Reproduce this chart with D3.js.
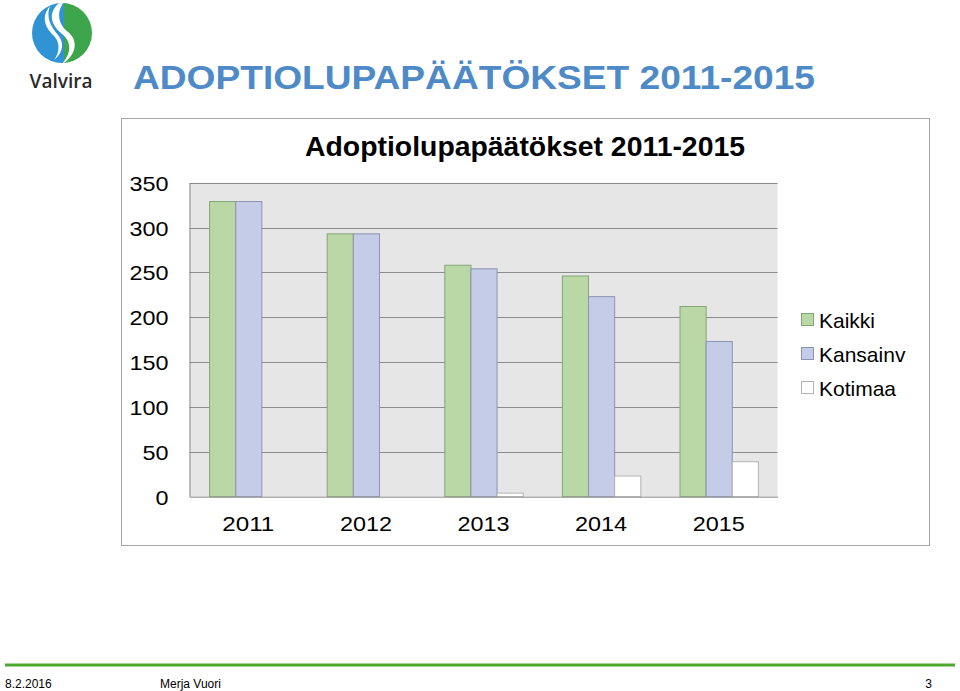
<!DOCTYPE html>
<html><head><meta charset="utf-8">
<script src="https://cdn.jsdelivr.net/npm/d3@7"></script>
<style>
html,body{margin:0;padding:0;background:#fff;}
svg{display:block;font-family:"Liberation Sans",Arial,sans-serif;}
</style></head>
<body>
<svg id="chart" width="960" height="691"></svg>
<script>
// ---- data ----
const years = ["2011","2012","2013","2014","2015"];
const seriesNames = ["Kaikki","Kansainv","Kotimaa"];
const kaikki   = [329, 293, 258, 246, 212];
const kansainv = [329, 293, 254, 223, 173];
const kotimaa  = [0, 0, 4, 23, 39];
const yTicks = [0, 50, 100, 150, 200, 250, 300, 350];
const slideTitle = "ADOPTIOLUPAPÄÄTÖKSET 2011-2015";
const chartTitle = "Adoptiolupapäätökset 2011-2015";
const footerDate = "8.2.2016";
const footerAuthor = "Merja Vuori";
const footerPage = "3";

const values = {Kaikki: kaikki, Kansainv: kansainv, Kotimaa: kotimaa};
const fills = {Kaikki: "#b9d8a5", Kansainv: "#c4cce8", Kotimaa: "#ffffff"};
const strokes = {Kaikki: "#87a477", Kansainv: "#8c94b2", Kotimaa: "#b3b3b3"};

const svg = d3.select("#chart");

// ---- logo ----
const logo = svg.append("g");
const defs = svg.append("defs");
defs.append("clipPath").attr("id","lc").append("circle").attr("cx",62).attr("cy",33).attr("r",30);
const lg = logo.append("g").attr("clip-path","url(#lc)");
lg.append("rect").attr("x",30).attr("y",0).attr("width",36).attr("height",70).attr("fill","#2f93d4");
lg.append("rect").attr("x",64).attr("y",0).attr("width",34).attr("height",70).attr("fill","#3da54c");
lg.append("path").attr("d","M60,2 C46,14 52,26 62,34 C72,42 72,54 60,66 C78,54 78,40 68,32 C58,24 56,12 64,2 Z").attr("fill","#fff");
lg.append("path").attr("d","M50,6 C40,18 46,28 54,36 C60,42 60,52 54,60 C64,52 64,42 58,35 C50,26 46,16 50,6 Z").attr("fill","#fff");
logo.append("text").attr("x",61).attr("y",88).attr("text-anchor","middle")
  .attr("font-size",19).attr("font-weight",600).attr("fill","#2b2b2b").attr("font-family","'Open Sans',sans-serif").text("Valvira");

// ---- slide title ----
svg.append("text").attr("x",133).attr("y",89)
  .attr("font-size",33).attr("font-weight","bold").attr("fill","#4f8ac8")
  .attr("textLength",682).attr("lengthAdjust","spacingAndGlyphs")
  .text(slideTitle);

// ---- chart box ----
svg.append("rect").attr("x",121.5).attr("y",118.5).attr("width",808).attr("height",427)
  .attr("fill","#fff").attr("stroke","#a6a6a6").attr("stroke-width",1);

svg.append("text").attr("x",525).attr("y",156).attr("text-anchor","middle")
  .attr("font-size",27).attr("font-weight","bold").attr("fill","#000")
  .attr("textLength",440).attr("lengthAdjust","spacingAndGlyphs")
  .text(chartTitle);

// ---- scales ----
const plotL = 189.5, plotR = 777.5, plotT = 182.7, plotB = 496.7;
const y = d3.scaleLinear().domain([0,350]).range([plotB, plotT]);
const x0 = d3.scaleBand().domain(years).range([plotL, plotR]).padding(0);
const x1 = d3.scaleBand().domain(seriesNames).range([0, x0.bandwidth()]).paddingInner(0).paddingOuter(0.75);

// plot background
svg.append("rect").attr("x",plotL).attr("y",plotT).attr("width",plotR-plotL).attr("height",plotB-plotT)
  .attr("fill","#e6e6e6");

// gridlines
svg.append("g").selectAll("line").data(yTicks.filter(d=>d>0)).join("line")
  .attr("x1",plotL).attr("x2",plotR)
  .attr("y1",d=>Math.round(y(d))+0.5).attr("y2",d=>Math.round(y(d))+0.5)
  .attr("stroke","#8c8c8c").attr("stroke-width",1);

// y axis labels
const yAxis = d3.axisLeft(y).tickValues(yTicks).tickSize(0).tickPadding(21);
const ya = svg.append("g").attr("transform",`translate(${plotL},0)`).call(yAxis);
ya.select(".domain").attr("stroke","#8c8c8c");
ya.selectAll("text").attr("font-size",21).attr("fill","#000")
  .attr("font-family","'Liberation Sans',Arial,sans-serif").attr("dy","0.36em")
  .attr("textLength",d=>String(d).length*13).attr("lengthAdjust","spacingAndGlyphs");

// bars
const groups = svg.append("g").selectAll("g").data(years).join("g")
  .attr("transform",d=>`translate(${x0(d)},0)`);
groups.selectAll("rect").data((yr,i)=>seriesNames.map(s=>({s, v: values[s][i]})).filter(d=>d.v>0)).join("rect")
  .attr("x",d=>x1(d.s)+0.5).attr("width",x1.bandwidth())
  .attr("y",d=>y(d.v)).attr("height",d=>plotB-y(d.v))
  .attr("fill",d=>fills[d.s]).attr("stroke",d=>strokes[d.s]).attr("stroke-width",1);

// x axis
const xAxis = d3.axisBottom(x0).tickSize(0).tickPadding(19);
const xa = svg.append("g").attr("transform",`translate(0,${plotB})`).call(xAxis);
xa.select(".domain").attr("stroke","#8c8c8c");
xa.selectAll("text").attr("font-size",21).attr("fill","#000")
  .attr("font-family","'Liberation Sans',Arial,sans-serif")
  .attr("textLength",52).attr("lengthAdjust","spacingAndGlyphs");

// legend
const leg = svg.append("g").attr("transform","translate(801,313)");
const li = leg.selectAll("g").data(seriesNames).join("g").attr("transform",(d,i)=>`translate(0,${i*34})`);
li.append("rect").attr("x",0.5).attr("y",0.5).attr("width",12).attr("height",12)
  .attr("fill",d=>fills[d]).attr("stroke",d=>strokes[d]);
li.append("text").attr("x",18).attr("y",7).attr("dy","0.36em").attr("font-size",21).attr("fill","#000").text(d=>d);

// footer
svg.append("line").attr("x1",5).attr("x2",955).attr("y1",665).attr("y2",665)
  .attr("stroke","#4ea72e").attr("stroke-width",3);
svg.append("text").attr("x",5).attr("y",688).attr("font-size",12).attr("fill","#000").text(footerDate);
svg.append("text").attr("x",160).attr("y",688).attr("font-size",12).attr("fill","#000").text(footerAuthor);
svg.append("text").attr("x",932).attr("y",688).attr("text-anchor","end").attr("font-size",12).attr("fill","#000").text(footerPage);
</script>
</body></html>
